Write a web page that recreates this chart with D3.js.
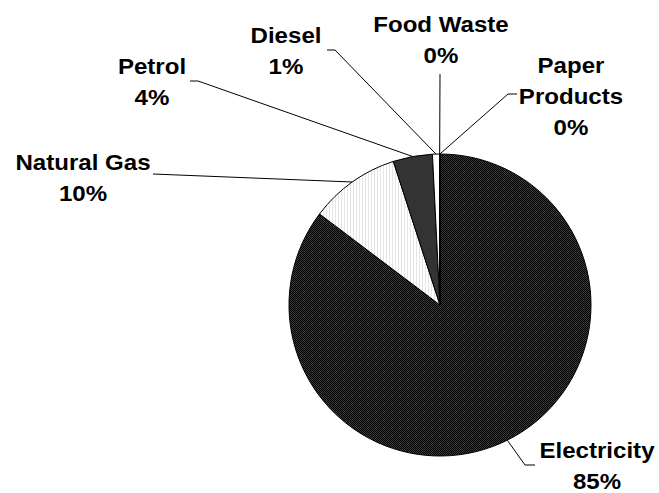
<!DOCTYPE html>
<html>
<head>
<meta charset="utf-8">
<script src="https://cdn.jsdelivr.net/npm/d3@7"></script>
<style>
  html, body { margin: 0; padding: 0; background: #fff; }
  svg { display: block; }
  text { font-family: "Liberation Sans", Arial, sans-serif; font-weight: bold; font-size: 21.5px; fill: #000; }
</style>
</head>
<body>
<svg id="chart" width="659" height="493"></svg>
<script>
// Emission sources (share of total, %)
const categories = ["Electricity", "Natural Gas", "Petrol", "Diesel", "Food Waste", "Paper Products"];
const shares = [85.3, 9.7, 4.2, 0.75, 0.03, 0.02];
const labelLines = [["Electricity"], ["Natural Gas"], ["Petrol"], ["Diesel"], ["Food Waste"], ["Paper", "Products"]];

// Label placement: text anchor (centre x, first baseline y) and leader elbow
const labelLayout = [
  { x: 597, y: 458, elbow: [[535, 465], [525, 465]] },
  { x: 83,  y: 170, elbow: [[153, 174]] },
  { x: 152, y: 74,  elbow: [[190, 81], [198, 81]] },
  { x: 286, y: 43,  elbow: [[327, 50], [335, 50]] },
  { x: 441, y: 32,  elbow: [[440, 74]] },
  { x: 571, y: 73,  elbow: [[517, 94], [508, 94]] }
];

const cx = 440, cy = 305, radius = 151, lineGap = 31, textStretch = 1.12;

const svg = d3.select("#chart");
const defs = svg.append("defs");

// Dark dithered fill
const dark = defs.append("pattern").attr("id", "dither").attr("patternUnits", "userSpaceOnUse")
  .attr("width", 2).attr("height", 2);
dark.append("rect").attr("width", 2).attr("height", 2).attr("fill", "#000");
dark.append("rect").attr("x", 0).attr("y", 0).attr("width", 1).attr("height", 1).attr("fill", "#3a3a3a");
dark.append("rect").attr("x", 1).attr("y", 1).attr("width", 1).attr("height", 1).attr("fill", "#3a3a3a");

// Light vertical hatch
const light = defs.append("pattern").attr("id", "hatch").attr("patternUnits", "userSpaceOnUse")
  .attr("width", 3).attr("height", 2);
light.append("rect").attr("width", 3).attr("height", 2).attr("fill", "#fff");
light.append("rect").attr("x", 0).attr("width", 1).attr("height", 2).attr("fill", "#e6e6e6");

const fills = ["url(#dither)", "url(#hatch)", "#333333", "#ffffff", "#ffffff", "url(#dither)"];

const data = categories.map((c, i) => ({ name: c, value: shares[i], i }));
const pie = d3.pie().value(d => d.value).sort(null).startAngle(0).endAngle(2 * Math.PI);
const arcs = pie(data);
const arc = d3.arc().innerRadius(0).outerRadius(radius);
const edge = d3.arc().innerRadius(radius).outerRadius(radius);

const g = svg.append("g").attr("transform", `translate(${cx},${cy})`);
g.selectAll("path.slice").data(arcs).join("path")
  .attr("class", "slice")
  .attr("d", arc)
  .attr("fill", d => fills[d.data.i])
  .attr("stroke", "#000")
  .attr("stroke-width", 1)
  .attr("stroke-linejoin", "round");

// Leader lines from slice edge to labels
arcs.forEach(a => {
  const L = labelLayout[a.data.i];
  const p = edge.centroid(a);
  const pts = L.elbow.concat([[p[0] + cx, p[1] + cy]]);
  svg.append("path")
    .attr("d", d3.line()(pts))
    .attr("fill", "none")
    .attr("stroke", "#000")
    .attr("stroke-width", 1);
});

// Labels: name lines + rounded percentage
const total = d3.sum(shares);
arcs.forEach(a => {
  const L = labelLayout[a.data.i];
  const lines = labelLines[a.data.i].concat([Math.round(a.data.value / total * 100) + "%"]);
  const t = svg.append("text")
    .attr("text-anchor", "middle")
    .attr("transform", `translate(${L.x},${L.y}) scale(${textStretch},1)`);
  lines.forEach((s, k) => {
    t.append("tspan").attr("x", 0).attr("y", k * lineGap).text(s);
  });
});
</script>
</body>
</html>
